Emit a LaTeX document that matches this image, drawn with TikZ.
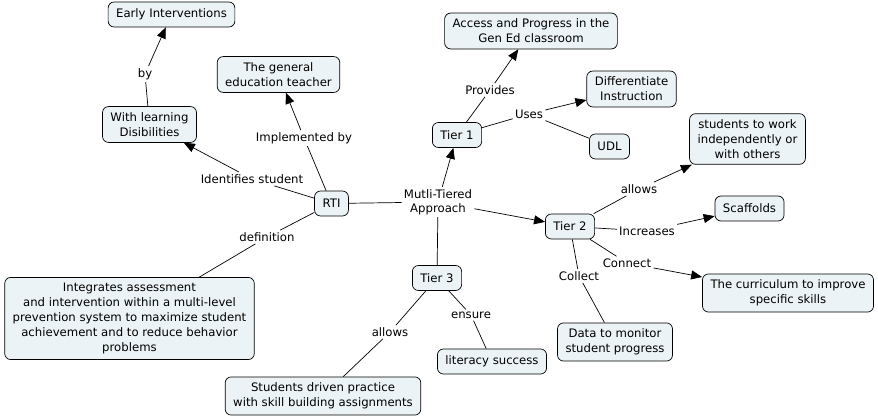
\documentclass[tikz,border=0pt]{standalone}
\usepackage{fontspec}
\setmainfont{DejaVu Sans}
\usepackage{xcolor}
\usetikzlibrary{arrows.meta}
\definecolor{conceptfill}{RGB}{235,243,246}

\begin{document}
\begin{tikzpicture}[x=1pt, y=-1pt, line width=0.7pt,
    concept/.style={draw, rounded corners=6pt, fill=conceptfill, align=center,
      inner xsep=8pt, inner ysep=6pt, minimum height=25pt,
      font=\fontsize{11.7}{14.8}\selectfont},
    phrase/.style={align=center, inner sep=2pt, font=\fontsize{11.7}{14.3}\selectfont},
    arr/.style={-{Triangle[length=11pt, width=9pt]}}]
  \useasboundingbox (0,0) rectangle (878,419);

  % concepts
  \node[concept] (early) at (171.5,14.5) {Early Interventions};
  \node[concept] (teacher) at (278.5,74.5) {The general\\education teacher};
  \node[concept] (disab) at (149.5,124.5) {With learning\\Disibilities};
  \node[concept] (rti) at (331.5,203.5) {RTI};
  \node[concept] (access) at (531,31) {Access and Progress in the\\Gen Ed classroom};
  \node[concept] (diff) at (631.5,89) {Differentiate\\Instruction};
  \node[concept] (tier1) at (457,135) {Tier 1};
  \node[concept] (udl) at (609.5,146.5) {UDL};
  \node[concept] (indep) at (747.5,139) {students to work\\independently or\\with others};
  \node[concept] (scaff) at (749.5,208.5) {Scaffolds};
  \node[concept] (tier2) at (570,226.5) {Tier 2};
  \node[concept] (curric) at (788,293) {The curriculum to improve\\specific skills};
  \node[concept] (tier3) at (437,278) {Tier 3};
  \node[concept] (literacy) at (492,361.5) {literacy success};
  \node[concept] (data) at (615,342) {Data to monitor\\student progress};
  \node[concept] (integ) at (129.5,318.5) {Integrates assessment\\and intervention within a multi-level\\prevention system to maximize student\\achievement and to reduce behavior\\problems};
  \node[concept] (practice) at (323,396) {Students driven practice\\with skill building assignments};

  % linking phrases
  \node[phrase] (by) at (145,74) {by};
  \node[phrase] (impl) at (304,138) {Implemented by};
  \node[phrase] (ident) at (252,179) {Identifies student};
  \node[phrase] (multi) at (438,202) {Mutli-Tiered\\Approach};
  \node[phrase] (defn) at (267,237) {definition};
  \node[phrase] (prov) at (490,90) {Provides};
  \node[phrase] (uses) at (529,114) {Uses};
  \node[phrase] (allows2) at (639,189) {allows};
  \node[phrase] (incr) at (647,231) {Increases};
  \node[phrase] (conn) at (627,263) {Connect};
  \node[phrase] (coll) at (579,276) {Collect};
  \node[phrase] (ensure) at (471,315) {ensure};
  \node[phrase] (allows3) at (390,332) {allows};

  % connections
  \draw (disab) -- (by);
  \draw[arr] (by) -- (early);
  \draw (rti) -- (impl);
  \draw[arr] (impl) -- (teacher);
  \draw (rti) -- (ident);
  \draw[arr] (ident) -- (disab);
  \draw (rti) -- (defn) -- (integ);
  \draw (rti) -- (multi);
  \draw[arr] (multi) -- (tier1);
  \draw[arr] (multi) -- (tier2);
  \draw (multi) -- (tier3);
  \draw (tier1) -- (prov);
  \draw[arr] (prov) -- (access);
  \draw (tier1) -- (uses);
  \draw[arr] (uses) -- (diff);
  \draw (uses) -- (udl);
  \draw (tier2) -- (allows2);
  \draw[arr] (allows2) -- (indep);
  \draw (tier2) -- (incr);
  \draw[arr] (incr) -- (scaff);
  \draw (tier2) -- (conn);
  \draw[arr] (conn) -- (curric);
  \draw (tier2) -- (coll) -- (data);
  \draw (tier3) -- (ensure) -- (literacy);
  \draw (tier3) -- (allows3) -- (practice);
\end{tikzpicture}
\end{document}
